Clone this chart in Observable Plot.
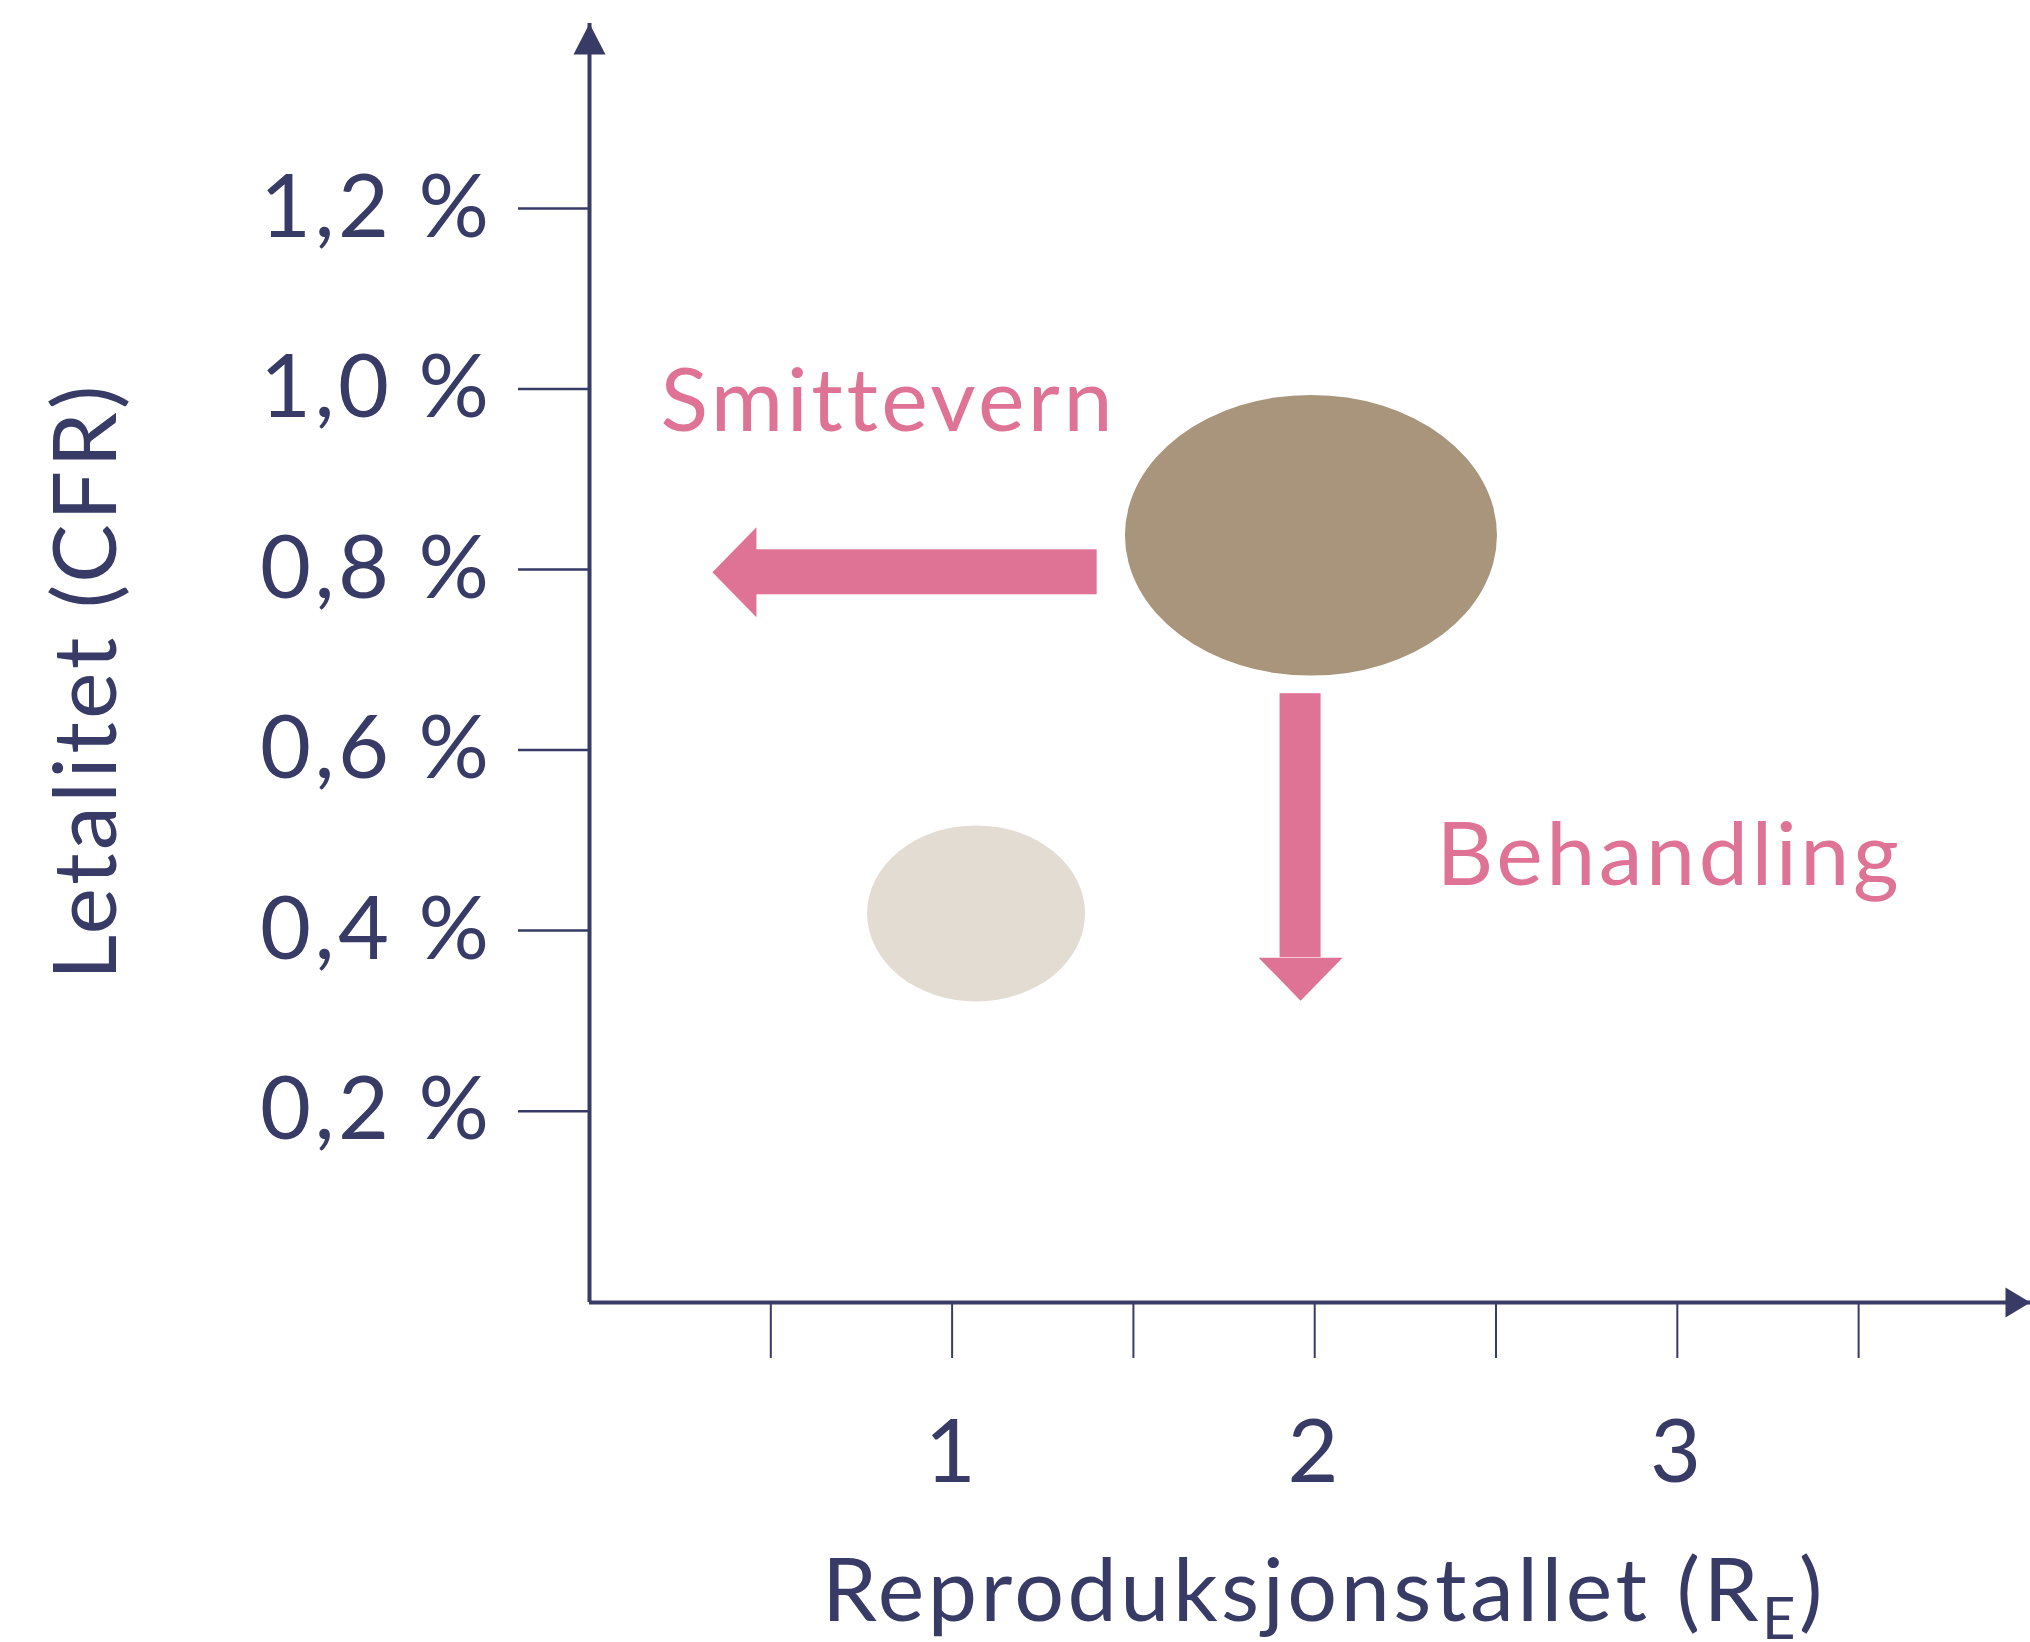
<!DOCTYPE html>
<html>
<head>
<meta charset="utf-8">
<script src="https://cdn.jsdelivr.net/npm/d3@7"></script>
<script src="https://cdn.jsdelivr.net/npm/@observablehq/plot@0.6"></script>
<style>
  html, body { margin: 0; padding: 0; background: #ffffff; }
  #chart { width: 2030px; height: 1642px; }
</style>
</head>
<body>
<div id="chart"></div>
<script>
// ---- Data ----
const scenarioNames = ["Utgangspunkt", "Etter tiltak"];
const rLow = [1.478, 0.767];
const rHigh = [2.504, 1.368];
const cfrLow = [0.682, 0.321];
const cfrHigh = [0.993, 0.516];

const arrowNames = ["Smittevern", "Behandling"];
const arrowFromR = [1.40, 1.961];
const arrowToR = [0.339, 1.961];
const arrowFromCfr = [0.797, 0.6625];
const arrowToCfr = [0.797, 0.3224];
const labelR = [0.196, 2.336];
const labelCfr = [0.954, 0.451];

const xTicks = [0.5, 1, 1.5, 2, 2.5, 3, 3.5];
const xLabelTicks = [1, 2, 3];
const xTickLabels = ["1", "2", "3"];
const yTicks = [0.2, 0.4, 0.6, 0.8, 1.0, 1.2];
const yTickLabels = ["0,2 %", "0,4 %", "0,6 %", "0,8 %", "1,0 %", "1,2 %"];
const xDomain = [0, 3.974];
const yDomain = [-0.012, 1.405];
const xTitleParts = ["Reproduksjonstallet (R", "E", ")"];
const yTitle = "Letalitet (CFR)";

// ---- Styles ----
const navy = "#393B67";
const pink = "#DE7396";
const bubbleColors = ["#A8957B", "#E2DCD2"];
const font = "Lato";

const bubbles = scenarioNames.map((name, i) => ({name, r1: rLow[i], r2: rHigh[i], c1: cfrLow[i], c2: cfrHigh[i], color: bubbleColors[i]}));
const arrows = arrowNames.map((name, i) => ({name, fr: arrowFromR[i], tr: arrowToR[i], fc: arrowFromCfr[i], tc: arrowToCfr[i], lr: labelR[i], lc: labelCfr[i]}));

// custom triangle symbols (tip at origin)
const tri = (pts) => ({draw(ctx) { ctx.moveTo(0, 0); for (const [a, b] of pts) ctx.lineTo(a, b); ctx.closePath(); }});
const headUp = tri([[16, 31], [-16, 31]]);
const headRightAxis = tri([[-25, -15], [-25, 15]]);
const headLeft = tri([[44, -45], [44, 45]]);
const headDown = tri([[-42, -43], [42, -43]]);

const chart = Plot.plot({
  width: 2030,
  height: 1642,
  marginLeft: 589,
  marginRight: 0,
  marginTop: 23,
  marginBottom: 340,
  style: {fontFamily: font, color: navy, background: "#ffffff", overflow: "visible", letterSpacing: "3.5px"},
  x: {domain: xDomain},
  y: {domain: yDomain},
  marks: [
    // bubbles as fully rounded rects (ellipses)
    Plot.rect(bubbles, {x1: "r1", x2: "r2", y1: "c1", y2: "c2", fill: "color", rx: 5000, ry: 5000}),
    // arrows: shafts
    Plot.rect([arrows[0]], {x1: "tr", x2: "fr", y1: "fc", y2: "tc", fill: pink, insetLeft: 44, insetTop: -22.5, insetBottom: -22.5}),
    Plot.rect([arrows[1]], {x1: "fr", x2: "tr", y1: "tc", y2: "fc", fill: pink, insetLeft: -20.5, insetRight: -20.5, insetBottom: 43}),
    // arrow heads
    Plot.dot([arrows[0]], {x: "tr", y: "tc", symbol: headLeft, fill: pink, stroke: "none"}),
    Plot.dot([arrows[1]], {x: "tr", y: "tc", symbol: headDown, fill: pink, stroke: "none"}),
    // arrow labels
    Plot.text(arrows, {x: "lr", y: "lc", text: "name", fill: pink, fontSize: 88, textAnchor: "start", lineAnchor: "bottom", fontFamily: font}),
    // axes lines
    Plot.ruleX([xDomain[0]], {stroke: navy, strokeWidth: 4}),
    Plot.ruleY([yDomain[0]], {stroke: navy, strokeWidth: 4}),
    Plot.dot([{x: xDomain[0], y: yDomain[1]}], {x: "x", y: "y", symbol: headUp, fill: navy, stroke: "none"}),
    Plot.dot([{x: xDomain[1], y: yDomain[0]}], {x: "x", y: "y", symbol: headRightAxis, fill: navy, stroke: "none"}),
    // y axis
    Plot.axisY({ticks: yTicks, tickSize: 71, tickPadding: 26, strokeWidth: 2.5, fontSize: 88,
      tickFormat: d => yTickLabels[yTicks.indexOf(d)], label: null}),
    // x axis ticks
    Plot.axisX({ticks: xTicks, tickSize: 56, strokeWidth: 2, tickFormat: () => "", label: null}),
    // x axis labels
    Plot.axisX({ticks: xLabelTicks, tickSize: 0, tickPadding: 117, fontSize: 88,
      tickFormat: d => xTickLabels[xLabelTicks.indexOf(d)], label: null}),
    // axis titles
    Plot.text([yTitle], {frameAnchor: "left", rotate: -90, textAnchor: "middle", dx: -474, dy: 18, fontSize: 88, lineAnchor: "bottom", fill: navy}),
    Plot.text([xTitleParts.join("")], {frameAnchor: "bottom", textAnchor: "middle", dx: 14, dy: 318, fontSize: 88, lineAnchor: "bottom", fill: navy})
  ]
});

// subscript for the x title
const full = xTitleParts.join("");
for (const t of chart.querySelectorAll("text")) {
  if (t.textContent === full) {
    t.textContent = "";
    const ns = "http://www.w3.org/2000/svg";
    const a = document.createElementNS(ns, "tspan"); a.textContent = xTitleParts[0];
    const b = document.createElementNS(ns, "tspan"); b.textContent = xTitleParts[1];
    b.setAttribute("dy", "18"); b.setAttribute("font-size", "58");
    const c = document.createElementNS(ns, "tspan"); c.textContent = xTitleParts[2];
    c.setAttribute("dy", "-18");
    t.append(a, b, c);
  }
}
document.getElementById("chart").append(chart);
</script>
</body>
</html>
